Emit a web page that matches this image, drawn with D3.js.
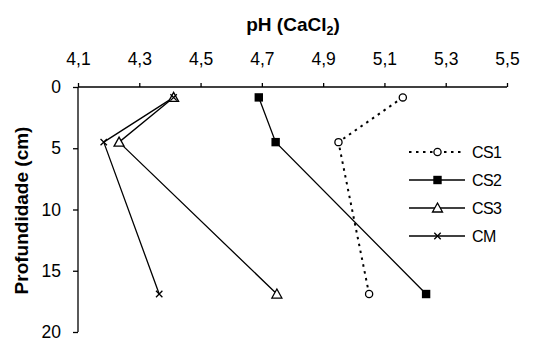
<!DOCTYPE html>
<html><head><meta charset="utf-8">
<script src="https://cdn.jsdelivr.net/npm/d3@7"></script>
<style>body{margin:0;background:#fff}svg{display:block}text{font-family:Arial,"Liberation Sans",sans-serif}</style>
</head><body>
<script>
const depths = [0.85, 4.5, 16.9];
const cs1 = [5.16, 4.95, 5.05];
const cs2 = [4.69, 4.745, 5.236];
const cs3 = [4.412, 4.234, 4.749];
const cm  = [4.412, 4.184, 4.365];
const seriesNames = ["CS1", "CS2", "CS3", "CM"];
const xTicks = [4.1, 4.3, 4.5, 4.7, 4.9, 5.1, 5.3, 5.5];
const yTicks = [0, 5, 10, 15, 20];

const W = 538, H = 342;
const m = {left: 78, top: 87, right: 31, bottom: 10};
const svg = d3.select("body").append("svg").attr("width", W).attr("height", H);
const x = d3.scaleLinear().domain([4.1, 5.5]).range([m.left, 507]);
const y = d3.scaleLinear().domain([0, 20]).range([m.top, 332]);
const fmt = d => d3.format(".1f")(d).replace(".", ",");

const xAxis = svg.append("g").attr("transform", `translate(0,${m.top})`)
  .call(d3.axisTop(x).tickValues(xTicks).tickSize(4).tickPadding(18).tickFormat(fmt));
const yAxis = svg.append("g").attr("transform", `translate(${m.left},0)`)
  .call(d3.axisLeft(y).tickValues(yTicks).tickSize(5).tickPadding(12));
[xAxis, yAxis].forEach(g => {
  g.select(".domain").attr("stroke", "#000").attr("stroke-width", 1.3);
  g.selectAll(".tick line").attr("stroke", "#000").attr("stroke-width", 1.3);
  g.selectAll(".tick text").attr("font-size", 17.5).attr("fill", "#000")
   .attr("font-family", "Arial, 'Liberation Sans', sans-serif");
});
xAxis.select(".domain").attr("d", `M${m.left},0H507`);
yAxis.select(".domain").attr("d", `M0,${y(0)}V${y(20)}`);

// titles
const t = svg.append("text").attr("x", 293).attr("y", 31).attr("text-anchor", "middle")
  .attr("font-size", 19).attr("font-weight", "bold");
t.append("tspan").text("pH (CaCl");
t.append("tspan").text("2").attr("font-size", 12.5).attr("dy", 4);
t.append("tspan").text(")").attr("dy", -4);
svg.append("text").attr("transform", `translate(27.5,${(m.top + 332) / 2 + 1}) rotate(-90)`)
  .attr("text-anchor", "middle").attr("font-size", 19).attr("font-weight", "bold")
  .text("Profundidade (cm)");

const all = [cs1, cs2, cs3, cm];
const styles = [
  {dash: "2.5,4.5", width: 2, marker: "circle"},
  {dash: null, width: 1.3, marker: "square"},
  {dash: null, width: 1.3, marker: "triangle"},
  {dash: null, width: 1.3, marker: "x"}
];
const line = d3.line().x(d => x(d[0])).y(d => y(d[1]));

function drawMarker(g, type, cx, cy) {
  if (type === "circle") g.append("circle").attr("cx", cx).attr("cy", cy).attr("r", 3.6)
    .attr("fill", "#fff").attr("stroke", "#000").attr("stroke-width", 1.3);
  else if (type === "square") g.append("rect").attr("x", cx - 4.2).attr("y", cy - 4.2)
    .attr("width", 8.4).attr("height", 8.4).attr("fill", "#000");
  else if (type === "triangle") g.append("path")
    .attr("d", `M${cx},${cy - 5}L${cx + 5},${cy + 4}L${cx - 5},${cy + 4}Z`)
    .attr("fill", "#fff").attr("stroke", "#000").attr("stroke-width", 1.3);
  else g.append("path")
    .attr("d", `M${cx - 3.2},${cy - 3.2}L${cx + 3.2},${cy + 3.2}M${cx - 3.2},${cy + 3.2}L${cx + 3.2},${cy - 3.2}`)
    .attr("stroke", "#000").attr("stroke-width", 1.3);
}

all.forEach((vals, i) => {
  const pts = vals.map((v, j) => [v, depths[j]]);
  const s = styles[i];
  svg.append("path").attr("d", line(pts)).attr("fill", "none").attr("stroke", "#000")
    .attr("stroke-width", s.width).attr("stroke-dasharray", s.dash);
});
all.forEach((vals, i) => {
  const g = svg.append("g");
  vals.forEach((v, j) => drawMarker(g, styles[i].marker, x(v), y(depths[j])));
});

// legend
seriesNames.forEach((name, i) => {
  const ly = 152 + i * 28;
  const s = styles[i];
  const g = svg.append("g");
  g.append("line").attr("x1", 409).attr("x2", 465).attr("y1", ly).attr("y2", ly)
    .attr("stroke", "#000").attr("stroke-width", s.width).attr("stroke-dasharray", s.dash);
  drawMarker(g, s.marker, 437.5, ly);
  g.append("text").attr("x", 472).attr("y", ly + 6).attr("font-size", 16).attr("letter-spacing", -0.6).text(name);
});
</script>
</body></html>
